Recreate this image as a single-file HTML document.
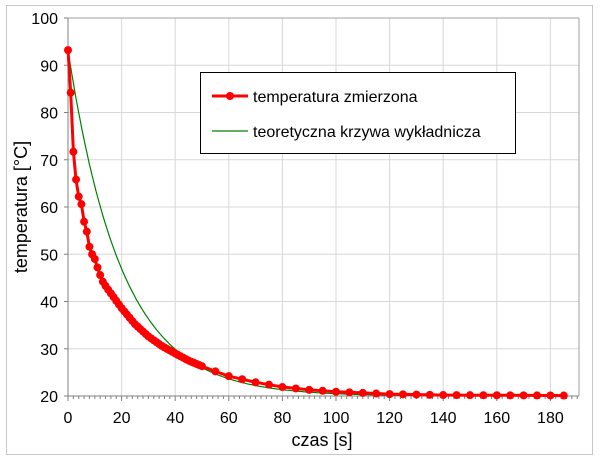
<!DOCTYPE html><html><head><style>body{margin:0;background:#fff}svg{font-family:"Liberation Sans",Arial,sans-serif}</style></head><body>
<svg id="s" width="600" height="461" xmlns="http://www.w3.org/2000/svg">
<rect x="6.5" y="5.5" width="586" height="449" fill="#fff" stroke="#c8c8c8"/>
<g id="g"></g>
</svg>
<script>
const g=document.getElementById('g');let h='';
const X=t=>68+t*2.68, Y=v=>396-(v-20)*4.725;
for(let t=20;t<=180;t+=20)h+=`<line x1="${X(t)}" y1="18" x2="${X(t)}" y2="396" stroke="#d8d8d8"/>`;
for(let v=30;v<=100;v+=10)h+=`<line x1="68" y1="${Y(v)}" x2="579" y2="${Y(v)}" stroke="#d8d8d8"/>`;
h+=`<line x1="579" y1="18" x2="579" y2="396" stroke="#a0a0a0"/><line x1="68" y1="18" x2="579" y2="18" stroke="#a0a0a0"/>`;
h+=`<line x1="68" y1="18" x2="68" y2="396" stroke="#808080"/><line x1="68" y1="396" x2="579" y2="396" stroke="#808080"/>`;
for(let t=0;t<=190;t+=2)h+=`<line x1="${X(t)}" y1="396" x2="${X(t)}" y2="${t%20?399:401}" stroke="#808080"/>`;
for(let v=20;v<=100;v+=10){h+=`<line x1="64" y1="${Y(v)}" x2="68" y2="${Y(v)}" stroke="#808080"/><text x="58" y="${Y(v)+6}" font-size="16" text-anchor="end">${v}</text>`}
for(let t=0;t<=180;t+=20)h+=`<text x="${X(t)}" y="423" font-size="16" text-anchor="middle">${t}</text>`;
h+=`<text x="322" y="446" font-size="18" text-anchor="middle">czas [s]</text>`;
h+=`<text transform="translate(27 207) rotate(-90)" font-size="18" text-anchor="middle">temperatura [°C]</text>`;
let p='';for(let t=0;t<=185;t+=0.5)p+=(p?'L':'M')+X(t).toFixed(1)+' '+Y(20+73.2*Math.exp(-t/20)).toFixed(1);
h+=`<path d="${p}" fill="none" stroke="#008000" stroke-width="1.2"/>`;
const A=[[0,93.2],[1,84.2],[2,71.7],[3,65.8],[4,62.2],[5,60.6],[6,56.9],[7,54.8],[8,51.6],[9,50],[10,49],[11,47.2],[12,45.6],[13,44.2],[14,43.3],[15,42.5],[20,38.6],[25,35.2],[30,32.6],[35,30.6],[40,29],[45,27.5],[50,26.3],[55,25.2],[60,24.2],[70,22.9],[80,21.9],[90,21.3],[100,20.9],[120,20.4],[140,20.2],[185,20.1]];
function f(t){for(let i=1;i<A.length;i++)if(t<=A[i][0]){const[a,b]=A[i-1],[c,d]=A[i];return b+(d-b)*(t-a)/(c-a)}return 20.1}
const pts=[];for(let t=0;t<=50;t++)pts.push(t);for(let t=55;t<=185;t+=5)pts.push(t);
let q='';let dots='';pts.forEach(t=>{const x=X(t),y=Y(f(t));q+=(q?'L':'M')+x.toFixed(1)+' '+y.toFixed(1);dots+=`<circle cx="${x}" cy="${y}" r="4" fill="#ff0000"/>`});
h+=`<path d="${q}" fill="none" stroke="#ff0000" stroke-width="3"/>`+dots;
h+=`<rect x="200.5" y="72.5" width="315" height="81" fill="#fff" stroke="#000"/>`;
h+=`<line x1="212" y1="96" x2="248" y2="96" stroke="#ff0000" stroke-width="3"/><circle cx="230" cy="96" r="4" fill="#ff0000"/><text x="253" y="102" font-size="16">temperatura zmierzona</text>`;
h+=`<line x1="212" y1="131" x2="248" y2="131" stroke="#008000" stroke-width="1.2"/><text x="253" y="137" font-size="16">teoretyczna krzywa wykładnicza</text>`;
g.innerHTML=h;
</script></body></html>
